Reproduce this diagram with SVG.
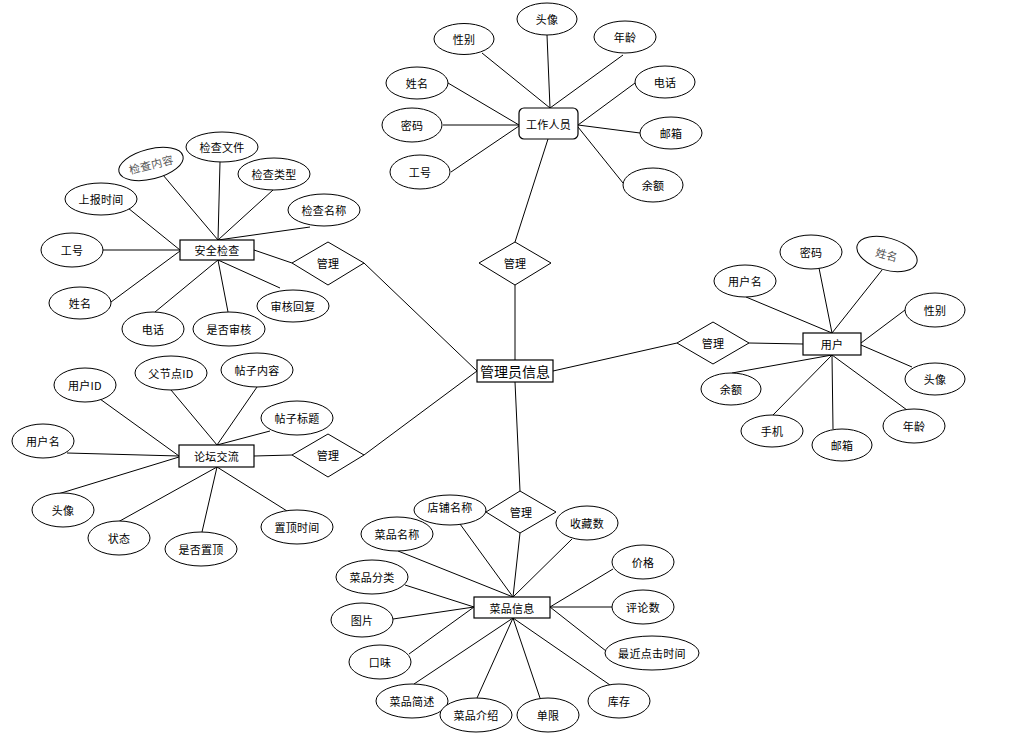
<svg xmlns="http://www.w3.org/2000/svg" width="1020" height="743" viewBox="0 0 1020 743">
<style>
.a{fill:#fff;stroke:#000;stroke-width:1}
.r{fill:#fff;stroke:#000;stroke-width:1.2}
.l{stroke:#000;stroke-width:1;fill:none}
text{font-family:"Noto Sans CJK SC","Liberation Sans",sans-serif;font-size:11px;letter-spacing:0.3px;fill:#000;text-anchor:middle;dominant-baseline:central}
.g{fill:#555}
.big{font-size:14px;letter-spacing:0}
</style>
<rect width="1020" height="743" fill="#fff"/>
<g id="connectors" class="l">
<line x1="482" y1="53" x2="550" y2="108"/>
<line x1="547" y1="35" x2="550" y2="108"/>
<line x1="623" y1="55" x2="550" y2="108"/>
<line x1="448" y1="83" x2="519" y2="125"/>
<line x1="443" y1="125" x2="519" y2="125"/>
<line x1="451" y1="172" x2="519" y2="126"/>
<line x1="635" y1="83" x2="578" y2="125"/>
<line x1="640" y1="133" x2="578" y2="125"/>
<line x1="623" y1="183" x2="578" y2="127"/>
<line x1="548" y1="139" x2="515" y2="242"/>
<line x1="515" y1="285" x2="515" y2="360"/>
<line x1="364" y1="263" x2="477" y2="371"/>
<line x1="364" y1="455" x2="477" y2="371"/>
<line x1="553" y1="371" x2="677" y2="343"/>
<line x1="515" y1="382" x2="520" y2="491"/>
<line x1="749" y1="343" x2="803" y2="344"/>
<line x1="746" y1="297" x2="832" y2="333"/>
<line x1="819" y1="268" x2="832" y2="333"/>
<line x1="882" y1="270" x2="832" y2="333"/>
<line x1="905" y1="310" x2="861" y2="343"/>
<line x1="912" y1="367" x2="861" y2="345"/>
<line x1="732" y1="373" x2="832" y2="355"/>
<line x1="773" y1="415" x2="832" y2="355"/>
<line x1="833" y1="429" x2="832" y2="355"/>
<line x1="907" y1="410" x2="832" y2="355"/>
<line x1="163" y1="175" x2="218" y2="240"/>
<line x1="220" y1="162" x2="218" y2="240"/>
<line x1="273" y1="190" x2="218" y2="240"/>
<line x1="310" y1="227" x2="218" y2="240"/>
<line x1="128" y1="208" x2="180" y2="250"/>
<line x1="102" y1="250" x2="180" y2="250"/>
<line x1="111" y1="302" x2="180" y2="251"/>
<line x1="155" y1="312" x2="218" y2="260"/>
<line x1="228" y1="312" x2="218" y2="260"/>
<line x1="280" y1="288" x2="218" y2="260"/>
<line x1="254" y1="250" x2="292" y2="263"/>
<line x1="100" y1="399" x2="179" y2="456"/>
<line x1="171" y1="390" x2="217" y2="445"/>
<line x1="257" y1="387" x2="217" y2="445"/>
<line x1="270" y1="431" x2="217" y2="445"/>
<line x1="67" y1="453" x2="179" y2="456"/>
<line x1="58" y1="494" x2="179" y2="457"/>
<line x1="118" y1="522" x2="217" y2="467"/>
<line x1="202" y1="532" x2="217" y2="467"/>
<line x1="287" y1="511" x2="217" y2="467"/>
<line x1="254" y1="456" x2="292" y2="455"/>
<line x1="460" y1="524" x2="513" y2="597"/>
<line x1="398" y1="551" x2="513" y2="597"/>
<line x1="520" y1="533" x2="513" y2="597"/>
<line x1="572" y1="539" x2="513" y2="597"/>
<line x1="405" y1="585" x2="474" y2="607"/>
<line x1="393" y1="619" x2="474" y2="607"/>
<line x1="409" y1="654" x2="474" y2="607"/>
<line x1="613" y1="569" x2="550" y2="607"/>
<line x1="612" y1="607" x2="550" y2="607"/>
<line x1="606" y1="651" x2="550" y2="607"/>
<line x1="414" y1="684" x2="513" y2="618"/>
<line x1="477" y1="698" x2="513" y2="618"/>
<line x1="540" y1="698" x2="513" y2="618"/>
<line x1="610" y1="685" x2="513" y2="618"/>
</g>

<g id="staff"><rect class="r" x="519" y="108" width="59" height="31" rx="5"/><text x="548.5" y="123.5">工作人员</text></g>
<g id="staff-avatar"><ellipse class="a" cx="547" cy="19" rx="30" ry="16"/><text x="547" y="19">头像</text></g>
<g id="staff-gender"><ellipse class="a" cx="464" cy="39" rx="30" ry="15.5"/><text x="464" y="39">性别</text></g>
<g id="staff-age"><ellipse class="a" cx="625" cy="37" rx="31" ry="16"/><text x="625" y="37">年龄</text></g>
<g id="staff-name"><ellipse class="a" cx="417" cy="83" rx="31" ry="16"/><text x="417" y="83">姓名</text></g>
<g id="staff-phone"><ellipse class="a" cx="665" cy="82" rx="30" ry="16"/><text x="665" y="82">电话</text></g>
<g id="staff-pwd"><ellipse class="a" cx="412" cy="125" rx="30" ry="17"/><text x="412" y="125">密码</text></g>
<g id="staff-mail"><ellipse class="a" cx="671" cy="133" rx="31" ry="16"/><text x="671" y="133">邮箱</text></g>
<g id="staff-no"><ellipse class="a" cx="420" cy="172" rx="30" ry="17"/><text x="420" y="172">工号</text></g>
<g id="staff-balance"><ellipse class="a" cx="653" cy="185" rx="30" ry="17"/><text x="653" y="185">余额</text></g>

<g id="rel-top"><polygon class="a" points="479,263 515,242 551,263 515,285"/><text x="515" y="263">管理</text></g>
<g id="rel-safety"><polygon class="a" points="292,263 328,242 364,263 328,285"/><text x="328" y="263">管理</text></g>
<g id="rel-forum"><polygon class="a" points="292,455 328,434 364,455 328,477"/><text x="328" y="455">管理</text></g>
<g id="rel-user"><polygon class="a" points="677,343 713,322 749,343 713,364"/><text x="713" y="343">管理</text></g>

<g id="admin"><rect class="r" x="477" y="360" width="76" height="22"/><text class="big" x="515" y="371">管理员信息</text></g>

<g id="user"><rect class="r" x="803" y="333" width="58" height="22"/><text x="832" y="344">用户</text></g>
<g id="user-uname"><ellipse class="a" cx="745" cy="281" rx="31" ry="16"/><text x="745" y="281">用户名</text></g>
<g id="user-pwd"><ellipse class="a" cx="811" cy="252" rx="31" ry="17"/><text x="811" y="252">密码</text></g>
<g id="user-name"><ellipse class="a" cx="887" cy="254" rx="31" ry="16" transform="rotate(16 887 254)"/><text class="g" x="887" y="254" transform="rotate(16 887 254)">姓名</text></g>
<g id="user-gender"><ellipse class="a" cx="935" cy="310" rx="30" ry="17"/><text x="935" y="310">性别</text></g>
<g id="user-avatar"><ellipse class="a" cx="935" cy="379" rx="30" ry="16"/><text x="935" y="379">头像</text></g>
<g id="user-age"><ellipse class="a" cx="914" cy="426" rx="31" ry="17"/><text x="914" y="426">年龄</text></g>
<g id="user-mail"><ellipse class="a" cx="842" cy="445" rx="30" ry="16"/><text x="842" y="445">邮箱</text></g>
<g id="user-phone"><ellipse class="a" cx="772" cy="431" rx="31" ry="16"/><text x="772" y="431">手机</text></g>
<g id="user-balance"><ellipse class="a" cx="731" cy="389" rx="30" ry="16"/><text x="731" y="389">余额</text></g>

<g id="safety"><rect class="r" x="180" y="240" width="74" height="20"/><text x="217" y="250">安全检查</text></g>
<g id="safety-content"><ellipse class="a" cx="151" cy="164" rx="33" ry="15" transform="rotate(-14 151 164)"/><text class="g" x="151" y="164" transform="rotate(-14 151 164)">检查内容</text></g>
<g id="safety-file"><ellipse class="a" cx="222" cy="147" rx="36" ry="15"/><text x="222" y="147">检查文件</text></g>
<g id="safety-type"><ellipse class="a" cx="274" cy="174" rx="36" ry="16"/><text x="274" y="174">检查类型</text></g>
<g id="safety-name"><ellipse class="a" cx="324" cy="210" rx="36" ry="16"/><text x="324" y="210">检查名称</text></g>
<g id="safety-time"><ellipse class="a" cx="101" cy="199" rx="36" ry="16"/><text x="101" y="199">上报时间</text></g>
<g id="safety-no"><ellipse class="a" cx="72" cy="250" rx="31" ry="17"/><text x="72" y="250">工号</text></g>
<g id="safety-person"><ellipse class="a" cx="80" cy="303" rx="31" ry="16"/><text x="80" y="303">姓名</text></g>
<g id="safety-phone"><ellipse class="a" cx="153" cy="329" rx="31" ry="17"/><text x="153" y="329">电话</text></g>
<g id="safety-audited"><ellipse class="a" cx="229" cy="329" rx="36" ry="17"/><text x="229" y="329">是否审核</text></g>
<g id="safety-reply"><ellipse class="a" cx="293" cy="306" rx="36" ry="16"/><text x="293" y="306">审核回复</text></g>

<g id="forum"><rect class="r" x="179" y="445" width="75" height="22"/><text x="216.5" y="456">论坛交流</text></g>
<g id="forum-uid"><ellipse class="a" cx="85" cy="385" rx="31" ry="17"/><text x="85" y="385">用户ID</text></g>
<g id="forum-pid"><ellipse class="a" cx="171" cy="373" rx="36" ry="17"/><text x="171" y="373">父节点ID</text></g>
<g id="forum-content"><ellipse class="a" cx="257" cy="370" rx="36" ry="17"/><text x="257" y="370">帖子内容</text></g>
<g id="forum-title"><ellipse class="a" cx="297" cy="418" rx="36" ry="17"/><text x="297" y="418">帖子标题</text></g>
<g id="forum-uname"><ellipse class="a" cx="43" cy="441" rx="31" ry="17"/><text x="43" y="441">用户名</text></g>
<g id="forum-avatar"><ellipse class="a" cx="63" cy="510" rx="31" ry="17"/><text x="63" y="510">头像</text></g>
<g id="forum-state"><ellipse class="a" cx="119" cy="538" rx="31" ry="17"/><text x="119" y="538">状态</text></g>
<g id="forum-top"><ellipse class="a" cx="201" cy="549" rx="36" ry="17"/><text x="201" y="549">是否置顶</text></g>
<g id="forum-toptime"><ellipse class="a" cx="297" cy="527" rx="36" ry="17"/><text x="297" y="527">置顶时间</text></g>

<g id="rel-dish"><polygon class="a" points="486,512 520,491 556,512 520,533"/><text x="521" y="512">管理</text></g>
<g id="dish"><rect class="r" x="474" y="597" width="76" height="21"/><text x="512" y="607.5">菜品信息</text></g>
<g id="dish-shop"><ellipse class="a" cx="450" cy="510" rx="36" ry="15"/><text x="450" y="507">店铺名称</text></g>
<g id="dish-name"><ellipse class="a" cx="397" cy="534" rx="36" ry="17"/><text x="397" y="534">菜品名称</text></g>
<g id="dish-fav"><ellipse class="a" cx="587" cy="523" rx="31" ry="17"/><text x="587" y="523">收藏数</text></g>
<g id="dish-price"><ellipse class="a" cx="643" cy="562" rx="31" ry="17"/><text x="643" y="562">价格</text></g>
<g id="dish-cat"><ellipse class="a" cx="372" cy="577" rx="36" ry="17"/><text x="372" y="577">菜品分类</text></g>
<g id="dish-comments"><ellipse class="a" cx="643" cy="607" rx="31" ry="17"/><text x="643" y="607">评论数</text></g>
<g id="dish-pic"><ellipse class="a" cx="362" cy="620" rx="31" ry="17"/><text x="362" y="620">图片</text></g>
<g id="dish-click"><ellipse class="a" cx="652" cy="653" rx="47" ry="17"/><text x="652" y="653">最近点击时间</text></g>
<g id="dish-taste"><ellipse class="a" cx="380" cy="662" rx="31" ry="17"/><text x="380" y="662">口味</text></g>
<g id="dish-brief"><ellipse class="a" cx="412" cy="701" rx="36" ry="17"/><text x="412" y="701">菜品简述</text></g>
<g id="dish-intro"><ellipse class="a" cx="476" cy="715" rx="36" ry="17"/><text x="476" y="715">菜品介绍</text></g>
<g id="dish-limit"><ellipse class="a" cx="548" cy="715" rx="31" ry="17"/><text x="548" y="715">单限</text></g>
<g id="dish-stock"><ellipse class="a" cx="619" cy="701" rx="31" ry="17"/><text x="619" y="701">库存</text></g>
</svg>
